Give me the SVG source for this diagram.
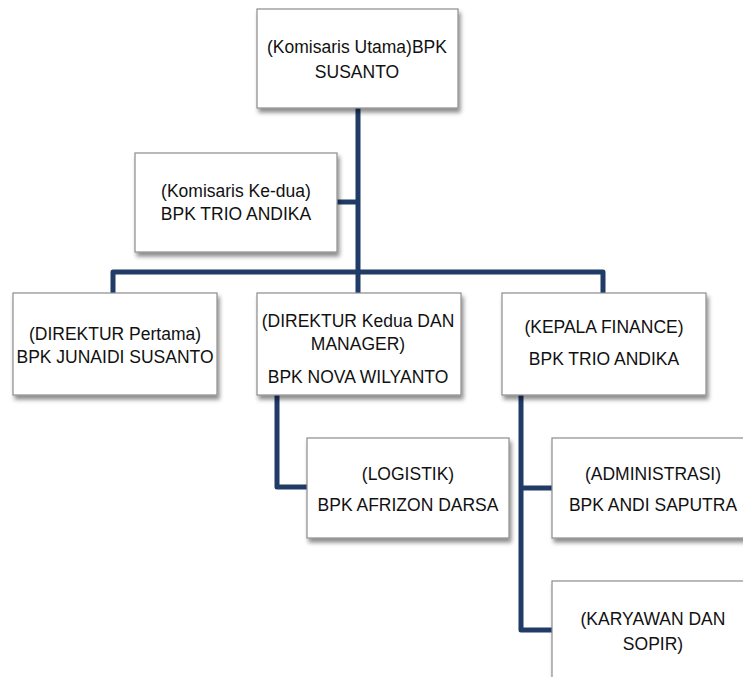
<svg xmlns="http://www.w3.org/2000/svg" width="743" height="677" viewBox="0 0 743 677">
<defs>
<filter id="sh" x="-10%" y="-10%" width="125%" height="130%">
<feDropShadow dx="2" dy="4" stdDeviation="2.2" flood-color="#000" flood-opacity="0.45"/>
</filter>
</defs>
<style>
.box{fill:#fff;stroke:#8c8c8c;stroke-width:1.2;filter:url(#sh)}
.t{font-family:"Liberation Sans",Arial,sans-serif;font-size:17.5px;fill:#111;text-anchor:middle}
.c{fill:none;stroke:#1f3b66;stroke-width:5;stroke-linejoin:round}
</style>
<rect width="743" height="677" fill="#fff"/>
<g id="connectors">
<path class="c" d="M358 108 V272"/>
<path class="c" d="M337 202 H358"/>
<path class="c" d="M113 293 V272 H603 V293"/>
<path class="c" d="M358 272 V293"/>
<path class="c" d="M277 395 V487 H307"/>
<path class="c" d="M521 395 V630 H552"/>
<path class="c" d="M521 488 H552"/>
</g>
<g id="komisaris-utama">
<rect class="box" x="257" y="9" width="201" height="99"/>
<text class="t" x="357" y="53">(Komisaris Utama)BPK</text>
<text class="t" x="357" y="78">SUSANTO</text>
</g>
<g id="komisaris-kedua">
<rect class="box" x="135" y="153" width="202" height="99"/>
<text class="t" x="236" y="197">(Komisaris Ke-dua)</text>
<text class="t" x="236" y="220">BPK TRIO ANDIKA</text>
</g>
<g id="direktur-pertama">
<rect class="box" x="13" y="293" width="204" height="102"/>
<text class="t" x="115" y="340">(DIREKTUR Pertama)</text>
<text class="t" x="115" y="363">BPK JUNAIDI SUSANTO</text>
</g>
<g id="direktur-kedua">
<rect class="box" x="257" y="293" width="204" height="102"/>
<text class="t" x="358" y="327">(DIREKTUR Kedua DAN</text>
<text class="t" x="358" y="350">MANAGER)</text>
<text class="t" x="358" y="383">BPK NOVA WILYANTO</text>
</g>
<g id="kepala-finance">
<rect class="box" x="502" y="293" width="204" height="102"/>
<text class="t" x="604" y="333">(KEPALA FINANCE)</text>
<text class="t" x="604" y="365">BPK TRIO ANDIKA</text>
</g>
<g id="logistik">
<rect class="box" x="307" y="438" width="202" height="100"/>
<text class="t" x="408" y="480">(LOGISTIK)</text>
<text class="t" x="408" y="511">BPK AFRIZON DARSA</text>
</g>
<g id="administrasi">
<rect class="box" x="552" y="438" width="202" height="100"/>
<text class="t" x="653" y="480">(ADMINISTRASI)</text>
<text class="t" x="653" y="511">BPK ANDI SAPUTRA</text>
</g>
<g id="karyawan">
<rect class="box" x="552" y="581" width="202" height="110"/>
<text class="t" x="653" y="625">(KARYAWAN DAN</text>
<text class="t" x="653" y="650">SOPIR)</text>
</g>
</svg>
